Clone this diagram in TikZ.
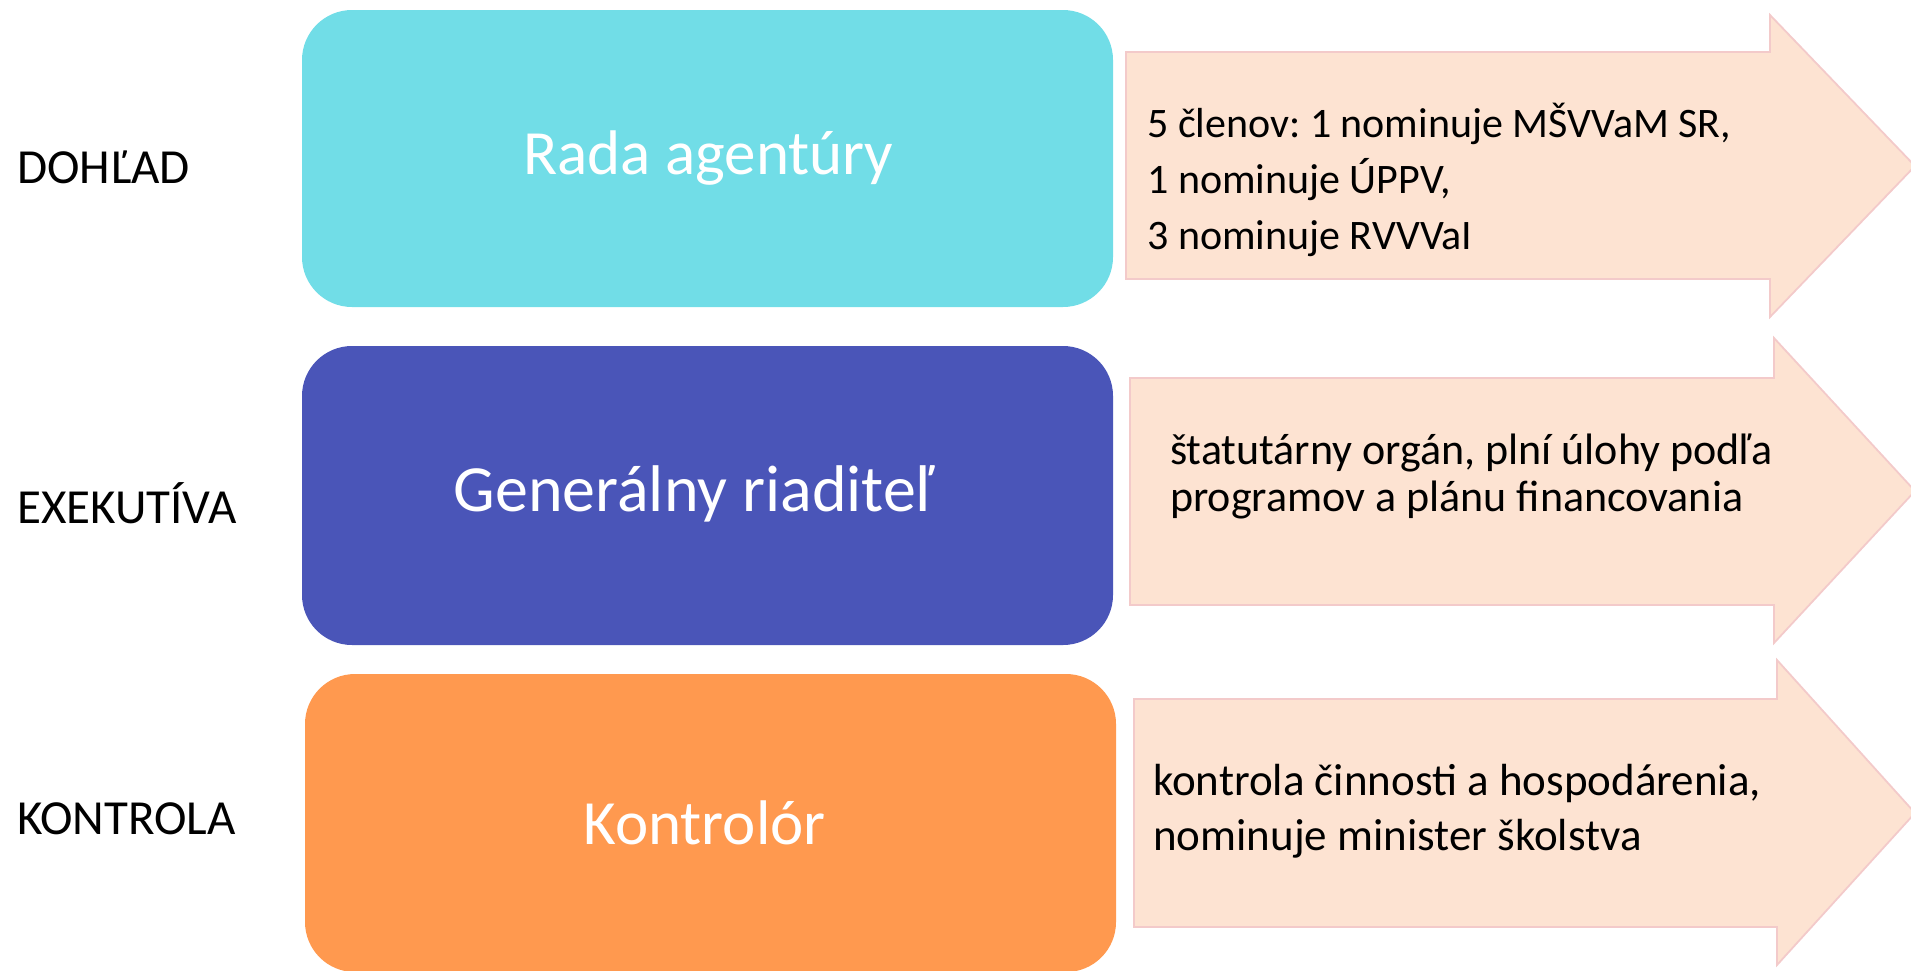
\documentclass[tikz,border=0pt]{standalone}
\usepackage{fontspec}
\setmainfont{Carlito}
\frenchspacing
\definecolor{cyanbox}{HTML}{71DDE7}
\definecolor{bluebox}{HTML}{4A55B8}
\definecolor{orangebox}{HTML}{FF994F}
\definecolor{peach}{HTML}{FDE3D2}
\definecolor{pinkline}{HTML}{F3CACA}
\tikzset{
  rolebox/.style={fill=#1, draw=none, rounded corners=50pt, minimum width=811pt, inner sep=0pt},
  boxtext/.style={inner sep=0pt, text=white},
  sidelabel/.style={anchor=west, inner sep=0pt, font=\fontsize{49}{58}\selectfont},
  arrowshape/.style={fill=peach, draw=pinkline, line width=1.8pt, line join=miter},
  desc/.style={anchor=base west, inner sep=0pt, align=left, text=black},
}
\begin{document}
\begin{tikzpicture}[x=1pt, y=-1pt]
\useasboundingbox (0,0) rectangle (1911,970);
\clip (0,0) rectangle (1911,970);

% left labels
\node[sidelabel] (l1) at (17,167) {DOHĽAD};
\node[sidelabel] (l2) at (17,503) {EXEKUTÍVA};
\node[sidelabel] (l3) at (17,819) {KONTROLA};

% boxes
\node[rolebox=cyanbox, minimum height=297pt] (b1) at (707.5,158.5) {};
\node[rolebox=bluebox, minimum height=299pt] (b2) at (707.5,495.5) {};
\node[rolebox=orangebox, minimum height=298pt] (b3) at (710.5,823) {};
\node[boxtext, font=\fontsize{63}{74}\selectfont] (n1) at ([xshift=1pt]b1.center) {Rada agentúry};
\node[boxtext, font=\fontsize{66}{78}\selectfont] (n2) at ([xshift=-14pt,yshift=2pt]b2.center) {Generálny riaditeľ};
\node[boxtext, font=\fontsize{63}{74}\selectfont] (n3) at ([xshift=-6pt]b3.center) {Kontrolór};

% arrows
\draw[arrowshape] (1126,52) -- (1770,52) -- (1770,15) -- (1915,166) -- (1770,317) -- (1770,279) -- (1126,279) -- cycle;
\draw[arrowshape] (1130,378) -- (1774,378) -- (1774,338) -- (1915,491) -- (1774,643) -- (1774,605) -- (1130,605) -- cycle;
\draw[arrowshape] (1134,699) -- (1777,699) -- (1777,660) -- (1915,813) -- (1777,965) -- (1777,927) -- (1134,927) -- cycle;

% descriptions
\node[desc, font=\fontsize{42}{56}\selectfont] (t1) at (1147,249) {5 členov: 1 nominuje MŠVVaM SR,\\1 nominuje ÚPPV,\\3 nominuje RVVVaI};
\node[desc, font=\fontsize{44}{47}\selectfont] (t2) at (1170,511) {štatutárny orgán, plní úlohy podľa\\programov a plánu financovania};
\node[desc, font=\fontsize{45}{55}\selectfont] (t3) at (1153,850) {kontrola činnosti a hospodárenia,\\nominuje minister školstva};
\end{tikzpicture}
\end{document}
